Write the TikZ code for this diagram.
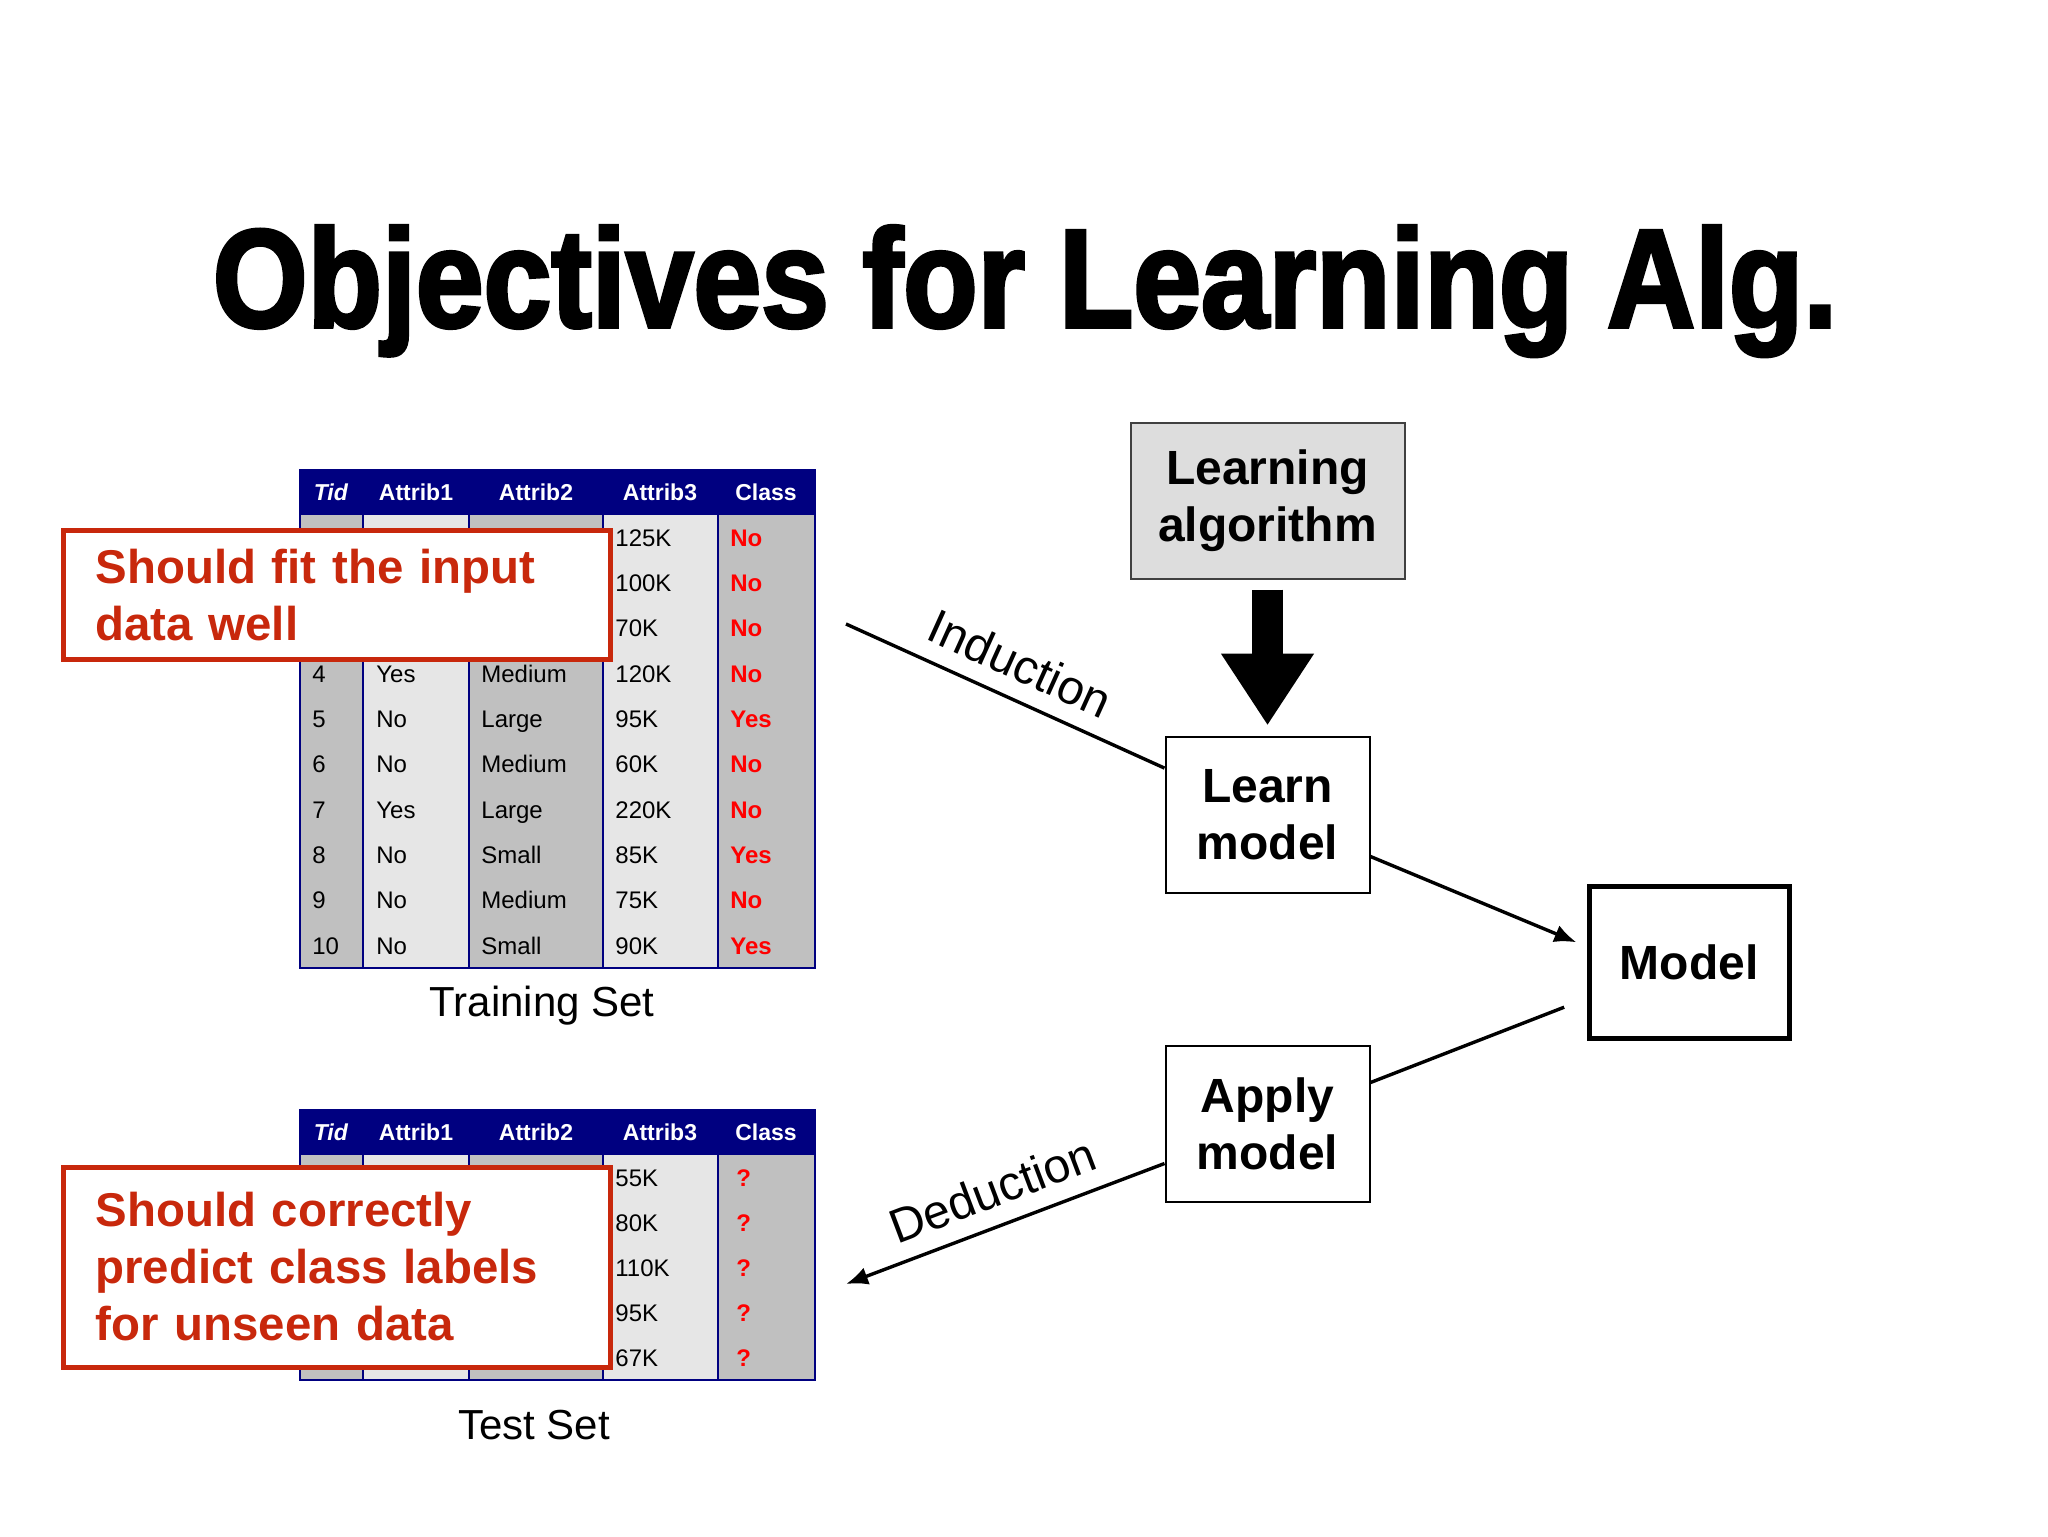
\documentclass[tikz,border=0pt]{standalone}
\usepackage{fontspec}
\setmainfont{Liberation Sans}
\newfontfamily\titlefont[FakeBold=2.5,FakeStretch=0.87]{Liberation Sans}
\usetikzlibrary{arrows.meta,positioning}
\definecolor{navyhead}{RGB}{0,0,128}
\definecolor{coldark}{RGB}{192,192,192}
\definecolor{collight}{RGB}{230,230,230}
\definecolor{boxred}{RGB}{200,40,12}
\definecolor{algofill}{RGB}{221,221,221}

\begin{document}
\begin{tikzpicture}[x=0.5pt, y=-0.5pt,
    cell/.style = {anchor=base west, inner sep=0pt, font=\fontsize{12}{14}\selectfont},
    cls/.style = {cell, text=red, font=\fontsize{12}{14}\selectfont\bfseries},
    head/.style = {anchor=base, inner sep=0pt, text=white, font=\fontsize{11.5}{14}\selectfont\bfseries},
    note/.style = {draw=boxred, line width=2.5pt, fill=white, text=boxred, align=left, anchor=north west,
        text width=241.5pt, inner xsep=16pt, font=\fontsize{23.7}{28.5}\selectfont\bfseries},
    main/.style = {draw=black, line width=1pt, minimum width=102pt, minimum height=78pt, align=center,
        font=\fontsize{24}{28.5}\selectfont\bfseries},
    flow/.style = {line width=1.7pt},
    tip/.style = {flow, -{Latex[length=11pt,width=9pt]}},
    caption/.style = {anchor=base, font=\fontsize{21}{24}\selectfont},
    slant/.style = {sloped, above=5pt, font=\fontsize{24}{28}\selectfont}]

    \useasboundingbox (0,0) rectangle (2048,1536);

    \node[anchor=base, font=\titlefont\bfseries\fontsize{70}{80}\selectfont] (title) at (1025,327) {Objectives for Learning Alg.};

    \foreach \ya/\yb in {470/968,1110/1380} {
        \foreach \xa/\xb/\shade in {300/363/coldark,363/469/collight,469/603/coldark,603/718/collight,718/815/coldark}
            \fill[\shade] (\xa,\ya+45) rectangle (\xb,\yb);
        \fill[navyhead] (300,\ya) rectangle (815,\ya+45);
        \foreach \xc in {363,469,603,718}
            \draw[navyhead, line width=1pt] (\xc,\ya+45) -- (\xc,\yb);
        \draw[navyhead, line width=1pt] (300,\ya) rectangle (815,\yb);
        \foreach \xm/\txt [count=\k] in {331/\textit{Tid},416/Attrib1,536/Attrib2,660/Attrib3,766/Class}
            \node[head] (h\ya-\k) at (\xm,\ya+30) {\txt};
    }

    \foreach \c [count=\i] in {125K,100K,70K} {
        \node[cell] (a\i) at (615,515+45.3*\i-14) {\c};
        \node[cls] (c\i) at (730,515+45.3*\i-14) {No};
    }
    \foreach \r/\p/\q/\c/\d in {4/Yes/Medium/120K/No,5/No/Large/95K/Yes,6/No/Medium/60K/No,
        7/Yes/Large/220K/No,8/No/Small/85K/Yes,9/No/Medium/75K/No,10/No/Small/90K/Yes} {
        \node[cell] (t\r) at (312,515+45.3*\r-14) {\r};
        \node[cell] (p\r) at (376,515+45.3*\r-14) {\p};
        \node[cell] (q\r) at (481,515+45.3*\r-14) {\q};
        \node[cell] (a\r) at (615,515+45.3*\r-14) {\c};
        \node[cls] (c\r) at (730,515+45.3*\r-14) {\d};
    }
    \foreach \c [count=\i] in {55K,80K,110K,95K,67K} {
        \node[cell] (ta\i) at (615,1155+45*\i-14) {\c};
        \node[cls] (tc\i) at (736,1155+45*\i-14) {?};
    }

    \node[note, minimum height=64.5pt] (fit) at (61,528) {Should fit the input\\data well};
    \node[note, minimum height=100pt] (predict) at (61,1164.5) {Should correctly\\predict class labels\\for unseen data};

    \node[caption] (train) at (542,1016) {Training Set};
    \node[caption] (test) at (534,1439) {Test Set};

    \node[main, fill=algofill, draw=black!75, minimum width=137pt] (algo) at (1267.5,500.5) {Learning\\algorithm};
    \node[main] (learn) [below=78pt of algo] {Learn\\model};
    \node[main] (apply) [below=75.5pt of learn] {Apply\\model};
    \node[main, line width=2.5pt, minimum width=100pt, minimum height=76pt] (model) at (1689,962.5) {Model};

    \draw[line width=15.5pt, -{Triangle[length=36pt,width=44pt]}, shorten <=5pt, shorten >=5pt] (algo) -- (learn);

    \coordinate (ind) at (846,624);
    \coordinate (ded) at (846,1284);
    \draw[flow] (ind) -- node[slant, pos=0.5] {Induction} (learn);
    \draw[tip, shorten >=5.5pt] ([yshift=-21pt]learn.east) -- ([yshift=8pt]model.west);
    \draw[flow, shorten <=12pt] ([yshift=-18pt]model.west) -- ([yshift=20.5pt]apply.east);
    \draw[tip] ([yshift=-20pt]apply.west) -- node[slant] {Deduction} (ded);
\end{tikzpicture}
\end{document}
